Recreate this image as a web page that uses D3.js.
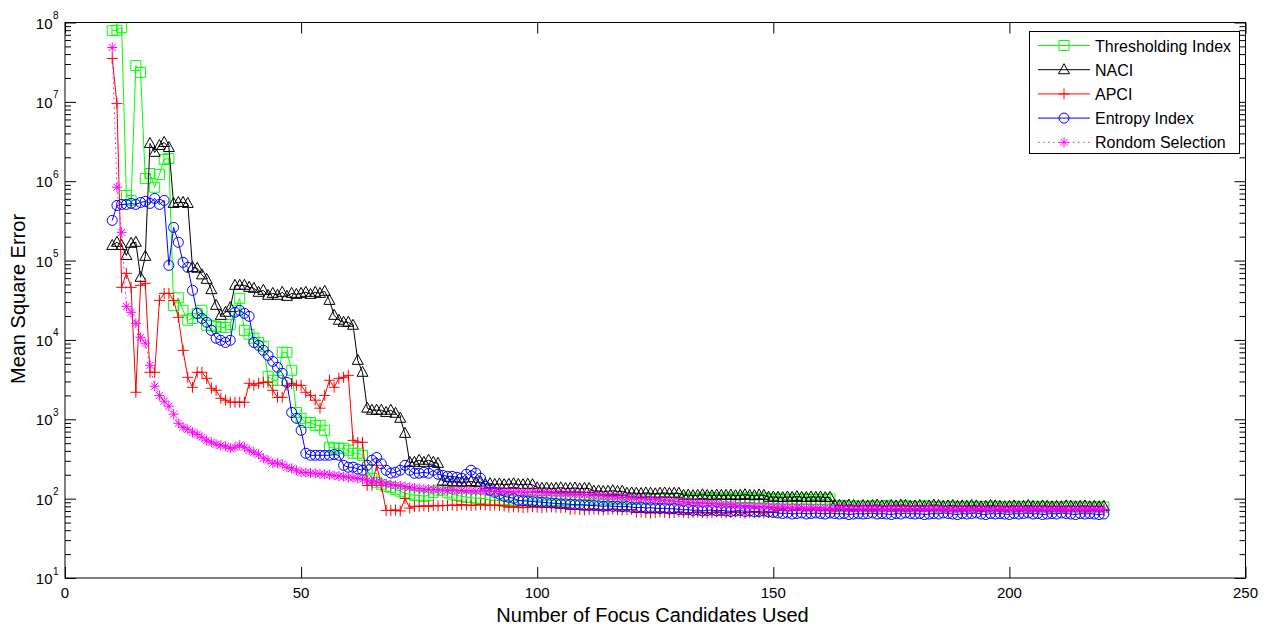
<!DOCTYPE html>
<html>
<head>
<meta charset="utf-8">
<script src="https://cdn.jsdelivr.net/npm/d3@7"></script>
<style>
  html, body { margin: 0; padding: 0; background: #fff; }
  svg { display: block; font-family: "Liberation Sans", Arial, Helvetica, sans-serif; }
</style>
</head>
<body>
<svg id="chart" width="1271" height="630"></svg>
<script>
// Number of focus candidates used (10 .. 220)
const candidates = d3.range(10, 221);

const thresholdingIndex = [
  7.9e7, 8.0e7, 8.6e7, 6.6e5, 5.7e5, 2.87e7, 2.35e7, 1.08e6, 1.25e6, 8.4e5,
  1.22e6, 1.88e6, 1.94e6, 2.7e4, 3.4e4, 2.36e4, 1.77e4, 1.87e4, 2.16e4, 2.36e4,
  1.53e4, 1.53e4, 1.48e4, 1.44e4, 1.44e4, 1.57e4, 2.36e4, 3.34e4, 1.32e4, 1.18e4,
  1.05e4, 9.3e3, 8.3e3, 3.48e3, 3.1e3, 3.1e3, 6.98e3, 6.98e3, 4.15e3, 1.22e3,
  1030, 910, 910, 840, 840, 727, 445, 432, 432, 432,
  407, 373, 373, 352, 228, 180, 161, 152, 143, 139,
  131, 124, 117, 114, 110, 110, 107, 110, 120, 128,
  128, 120, 114, 110, 107, 104, 104, 101, 101, 99,
  95, 96, 94, 97, 95, 96, 94, 95, 97, 96,
  95, 94, 96, 95, 94, 96, 95, 97, 95, 94,
  98, 97, 99, 98, 97, 99, 98, 100, 98, 97,
  99, 98, 100, 99, 97, 98, 100, 99, 98, 100,
  101, 100, 102, 101, 100, 102, 101, 103, 101, 100,
  102, 101, 100, 102, 101, 103, 101, 100, 102, 99,
  98, 99, 98, 97, 99, 98, 98, 99, 97, 98,
  98, 97, 99, 81, 80, 82, 80, 79, 81, 80,
  80, 81, 79, 80, 82, 80, 79, 80, 81, 80,
  79, 80, 81, 80, 79, 78, 80, 79, 80, 78,
  79, 80, 78, 79, 80, 79, 78, 80, 79, 78,
  79, 78, 80, 79, 78, 79, 80, 78, 79, 78,
  79, 78, 79, 80, 78, 79, 78, 79, 78, 79,
  78
];

const naci = [
  1.55e5, 1.7e5, 1.55e5, 1.16e5, 1.65e5, 1.7e5, 6.15e4, 1.13e5, 2.99e6, 2.31e6,
  2.82e6, 3.08e6, 2.66e6, 5.25e5, 5.4e5, 5.4e5, 5.25e5, 8.2e4, 8.0e4, 6.6e4,
  5.8e4, 4.3e4, 2.73e4, 2.04e4, 2.23e4, 2.55e4, 4.88e4, 4.88e4, 4.88e4, 4.6e4,
  4.47e4, 3.98e4, 4.22e4, 3.65e4, 3.86e4, 3.65e4, 3.98e4, 3.54e4, 3.86e4, 3.75e4,
  3.86e4, 3.98e4, 3.75e4, 3.98e4, 3.86e4, 4.1e4, 3.15e4, 2.04e4, 1.77e4, 1.67e4,
  1.67e4, 1.53e4, 5.53e3, 3.91e3, 1.38e3, 1.30e3, 1.30e3, 1.30e3, 1.22e3, 1.30e3,
  1.19e3, 1.03e3, 665, 287, 287, 305, 287, 305, 287, 278,
  166, 164, 162, 163, 161, 162, 164, 160, 162, 152,
  154, 151, 153, 150, 152, 154, 151, 150, 152, 150,
  137, 135, 136, 134, 135, 137, 134, 135, 136, 133,
  135, 134, 124, 125, 123, 124, 126, 123, 124, 117,
  118, 117, 116, 118, 117, 115, 117, 118, 116, 117,
  117, 110, 111, 109, 110, 112, 110, 109, 111, 110,
  110, 111, 109, 110, 112, 110, 109, 111, 110, 104,
  105, 104, 103, 105, 104, 106, 104, 103, 105, 104,
  105, 103, 104, 83, 82, 81, 83, 82, 80, 82,
  81, 82, 83, 81, 80, 82, 81, 83, 82, 80,
  81, 82, 80, 81, 83, 82, 80, 81, 82, 80,
  81, 80, 82, 81, 79, 80, 82, 81, 80, 79,
  80, 81, 79, 80, 82, 80, 79, 81, 80, 79,
  80, 79, 81, 80, 79, 80, 81, 79, 80, 79,
  80
];

const apci = [
  3.52e7, 9.5e6, 4.6e4, 6.9e4, 4.6e4, 2.19e3, 4.88e4, 5.17e4, 3.91e3, 3.91e3,
  3.15e4, 3.86e4, 3.86e4, 3.15e4, 1.93e4, 7.39e3, 3.38e3, 2.53e3, 3.91e3, 3.91e3,
  3.28e3, 2.46e3, 2.32e3, 1.84e3, 1.74e3, 1.64e3, 1.64e3, 1.64e3, 1.64e3, 2.84e3,
  2.68e3, 2.84e3, 2.92e3, 2.92e3, 2.32e3, 1.89e3, 1.89e3, 2.68e3, 2.84e3, 2.68e3,
  2.68e3, 2.19e3, 2.0e3, 1.74e3, 1.38e3, 2.0e3, 3.1e3, 2.53e3, 3.28e3, 3.38e3,
  3.58e3, 543, 513, 513, 147, 147, 263, 147, 71, 71,
  72, 70, 101, 76, 80, 80, 81, 80, 82, 81,
  82, 82, 83, 82, 84, 83, 82, 83, 84, 83,
  82, 83, 82, 81, 78, 79, 78, 77, 78, 79,
  78, 77, 78, 79, 78, 77, 78, 73, 74, 73,
  72, 73, 74, 73, 72, 73, 74, 73, 72, 73,
  73, 67, 68, 67, 66, 67, 68, 67, 66, 67,
  68, 67, 66, 67, 68, 67, 66, 67, 68, 67,
  66, 67, 68, 67, 66, 67, 68, 67, 66, 67,
  68, 71, 72, 70, 71, 72, 71, 70, 72, 71,
  70, 72, 71, 70, 72, 71, 73, 70, 71, 72,
  71, 70, 72, 71, 73, 70, 71, 72, 70, 71,
  72, 71, 70, 72, 71, 73, 71, 70, 72, 71,
  70, 72, 71, 73, 70, 71, 72, 71, 70, 72,
  71, 73, 70, 72, 71, 70, 72, 71, 73, 70,
  72, 71, 70, 72, 71, 73, 70, 72, 71, 70,
  72
];

const entropyIndex = [
  3.21e5, 4.95e5, 5.1e5, 5.1e5, 5.25e5, 5.1e5, 5.4e5, 5.57e5, 5.25e5, 6.07e5,
  5.1e5, 5.73e5, 8.7e4, 2.62e5, 1.7e5, 9.5e4, 8.2e4, 4.22e4, 2.16e4, 1.87e4,
  1.67e4, 1.32e4, 1.05e4, 9.9e3, 9.3e3, 9.9e3, 2.23e4, 2.36e4, 2.16e4, 1.98e4,
  9.3e3, 8.54e3, 7.39e3, 6.39e3, 5.37e3, 4.52e3, 3.8e3, 2.92e3, 1.22e3, 1.03e3,
  727, 373, 352, 352, 352, 352, 352, 360, 352, 263,
  249, 249, 236, 228, 263, 305, 330, 275, 228, 210,
  215, 228, 263, 228, 209, 209, 215, 209, 228, 203,
  197, 191, 191, 186, 181, 203, 228, 210, 181, 143,
  128, 120, 114, 107, 104, 101, 95, 94, 93, 92,
  91, 90, 89, 88, 87, 86, 86, 85, 84, 84,
  83, 82, 82, 81, 80, 81, 80, 80, 79, 80,
  78, 77, 78, 76, 77, 76, 75, 76, 74, 75,
  73, 72, 73, 71, 72, 70, 71, 72, 70, 71,
  70, 69, 70, 71, 69, 70, 68, 69, 70, 68,
  67, 66, 65, 66, 64, 65, 66, 64, 65, 66,
  65, 64, 66, 65, 64, 65, 63, 64, 65, 64,
  65, 66, 64, 65, 64, 63, 65, 64, 66, 65,
  64, 65, 63, 64, 65, 64, 66, 65, 64, 63,
  65, 64, 65, 66, 64, 63, 65, 64, 65, 64,
  63, 65, 64, 65, 66, 64, 65, 63, 64, 65,
  64, 66, 65, 64, 63, 65, 64, 65, 64, 63,
  64
];

const randomSelection = [
  4.84e7, 8.4e5, 2.27e5, 2.65e4, 2.23e4, 1.62e4, 1.08e4, 9.1e3, 4.79e3, 2.61e3,
  2.0e3, 1.69e3, 1.46e3, 1.16e3, 891, 793, 748, 686, 647, 593,
  544, 513, 484, 471, 457, 431, 444, 471, 444, 407,
  384, 362, 323, 305, 279, 279, 271, 248, 241, 228,
  215, 213, 210, 208, 205, 203, 200, 196, 192, 189,
  186, 183, 180, 176, 171, 166, 162, 158, 154, 150,
  147, 145, 142, 139, 136, 134, 132, 131, 130, 129,
  128, 127, 128, 126, 127, 125, 126, 124, 125, 124,
  124, 123, 124, 122, 123, 121, 122, 121, 120, 121,
  120, 119, 118, 118, 117, 116, 115, 115, 114, 113,
  112, 111, 110, 109, 108, 107, 106, 105, 104, 103,
  102, 101, 100, 99, 98, 97, 96, 95, 94, 93,
  92, 91, 90, 89, 89, 88, 87, 86, 86, 85,
  84, 84, 83, 82, 82, 81, 81, 80, 80, 79,
  79, 78, 79, 78, 77, 78, 77, 76, 77, 76,
  77, 76, 75, 76, 77, 76, 75, 76, 75, 76,
  75, 76, 75, 74, 75, 76, 75, 74, 75, 74,
  75, 74, 75, 76, 75, 74, 75, 74, 73, 74,
  75, 74, 73, 74, 75, 74, 73, 74, 75, 74,
  73, 74, 75, 74, 73, 74, 75, 74, 73, 74,
  75, 74, 73, 74, 75, 74, 73, 74, 75, 74,
  74
];

const seriesNames = ["Thresholding Index", "NACI", "APCI", "Entropy Index", "Rondom Selection"];
const seriesValues = [thresholdingIndex, naci, apci, entropyIndex, randomSelection];
const seriesColors = ["#00ff00", "#000000", "#ff0000", "#0000ff", "#ff00ff"];
const seriesMarkers = ["square", "triangle", "plus", "circle", "star"];
const seriesDash = [null, null, null, null, "1.5,3.5"];

const xTickValues = [0, 50, 100, 150, 200, 250];
const yTickExponents = [1, 2, 3, 4, 5, 6, 7, 8];
const xAxisTitle = "Number of Focus Candidates Used";
const yAxisTitle = "Mean Square Error";

// ---- layout ----
const plotLeft = 65, plotRight = 1245.5, plotTop = 22.5, plotBottom = 578;

const svg = d3.select("#chart");
const x = d3.scaleLinear().domain([0, 250]).range([plotLeft, plotRight]);
const y = d3.scaleLog().domain([10, 1e8]).range([plotBottom, plotTop]);

svg.append("rect").attr("width", 1271).attr("height", 630).attr("fill", "#fff");

svg.append("defs").append("clipPath").attr("id", "plot-clip")
  .append("rect")
  .attr("x", plotLeft).attr("y", plotTop)
  .attr("width", plotRight - plotLeft).attr("height", plotBottom - plotTop);

// ---- marker shapes ----
function markerPath(kind) {
  switch (kind) {
    case "square":   return "M-5,-5H5V5H-5Z";
    case "triangle": return "M0,-6L5.5,4H-5.5Z";
    case "plus":     return "M-5.5,0H5.5M0,-5.5V5.5";
    case "circle":   return "M5,0A5,5 0 1,1 -5,0A5,5 0 1,1 5,0Z";
    case "star":     return "M-5,0H5M0,-5V5M-3.6,-3.6L3.6,3.6M-3.6,3.6L3.6,-3.6";
  }
}

// ---- series ----
const plotArea = svg.append("g").attr("clip-path", "url(#plot-clip)");
const line = d3.line().x(d => x(d[0])).y(d => y(d[1]));

seriesValues.forEach((vals, i) => {
  const pts = candidates.map((c, k) => [c, vals[k]]);
  const g = plotArea.append("g");
  g.append("path")
    .attr("d", line(pts))
    .attr("fill", "none")
    .attr("stroke", seriesColors[i])
    .attr("stroke-width", 1)
    .attr("stroke-dasharray", seriesDash[i]);
  g.selectAll("path.mk")
    .data(pts)
    .join("path")
    .attr("class", "mk")
    .attr("d", markerPath(seriesMarkers[i]))
    .attr("transform", d => `translate(${x(d[0])},${y(d[1])})`)
    .attr("fill", "none")
    .attr("stroke", seriesColors[i])
    .attr("stroke-width", 1);
});

// ---- axes (ticks pointing inward on all four sides) ----
const majorY = yTickExponents.map(e => Math.pow(10, e));
const minorY = [];
yTickExponents.slice(0, -1).forEach(e => {
  for (let m = 2; m <= 9; m++) minorY.push(m * Math.pow(10, e));
});

function styleAxis(g) {
  g.select(".domain").remove();
  g.selectAll(".tick line").attr("stroke", "#000").attr("stroke-width", 1);
  g.selectAll(".tick text").remove();
}

svg.append("g").attr("transform", `translate(0,${plotBottom})`)
  .call(d3.axisBottom(x).tickValues(xTickValues).tickSize(-11)).call(styleAxis);
svg.append("g").attr("transform", `translate(0,${plotTop})`)
  .call(d3.axisTop(x).tickValues(xTickValues).tickSize(-11)).call(styleAxis);
svg.append("g").attr("transform", `translate(${plotLeft},0)`)
  .call(d3.axisLeft(y).tickValues(majorY).tickSize(-11)).call(styleAxis);
svg.append("g").attr("transform", `translate(${plotLeft},0)`)
  .call(d3.axisLeft(y).tickValues(minorY).tickSize(-6)).call(styleAxis);
svg.append("g").attr("transform", `translate(${plotRight},0)`)
  .call(d3.axisRight(y).tickValues(majorY).tickSize(-11)).call(styleAxis);
svg.append("g").attr("transform", `translate(${plotRight},0)`)
  .call(d3.axisRight(y).tickValues(minorY).tickSize(-6)).call(styleAxis);

// axes box
svg.append("rect")
  .attr("x", plotLeft).attr("y", plotTop)
  .attr("width", plotRight - plotLeft).attr("height", plotBottom - plotTop)
  .attr("fill", "none").attr("stroke", "#000").attr("stroke-width", 1);

// x tick labels
svg.append("g").selectAll("text")
  .data(xTickValues)
  .join("text")
  .attr("x", d => x(d))
  .attr("y", 597.5)
  .attr("text-anchor", "middle")
  .attr("font-size", 15)
  .attr("fill", "#000")
  .text(d => d);

// y tick labels: 10 with superscript exponent
const yLab = svg.append("g").selectAll("g")
  .data(yTickExponents)
  .join("g")
  .attr("transform", e => `translate(0,${y(Math.pow(10, e))})`);
yLab.append("text")
  .attr("x", 52.5).attr("y", 6)
  .attr("text-anchor", "end")
  .attr("font-size", 15)
  .attr("fill", "#000")
  .text("10");
yLab.append("text")
  .attr("x", 53).attr("y", -3.5)
  .attr("text-anchor", "start")
  .attr("font-size", 10)
  .attr("fill", "#000")
  .text(e => e);

// axis titles
svg.append("text")
  .attr("x", 652.5).attr("y", 621.5)
  .attr("text-anchor", "middle")
  .attr("font-size", 20)
  .attr("fill", "#000")
  .text(xAxisTitle);
svg.append("text")
  .attr("transform", "translate(25,299) rotate(-90)")
  .attr("text-anchor", "middle")
  .attr("font-size", 20)
  .attr("fill", "#000")
  .text(yAxisTitle);

// ---- legend ----
const legend = svg.append("g");
legend.append("rect")
  .attr("x", 1029.5).attr("y", 31.5)
  .attr("width", 210).attr("height", 122)
  .attr("fill", "#fff").attr("stroke", "#000").attr("stroke-width", 1);

const rowY0 = 45.5, rowStep = 24.2;
seriesNames.forEach((name, i) => {
  const ry = rowY0 + i * rowStep;
  legend.append("line")
    .attr("x1", 1038).attr("x2", 1090)
    .attr("y1", ry).attr("y2", ry)
    .attr("stroke", seriesColors[i])
    .attr("stroke-width", 1)
    .attr("stroke-dasharray", seriesDash[i]);
  legend.append("path")
    .attr("d", markerPath(seriesMarkers[i]))
    .attr("transform", `translate(1064,${ry})`)
    .attr("fill", "none")
    .attr("stroke", seriesColors[i])
    .attr("stroke-width", 1);
  legend.append("text")
    .attr("x", 1095).attr("y", ry + 6)
    .attr("font-size", 16)
    .attr("fill", "#000")
    .text(name);
});
</script>
</body>
</html>
